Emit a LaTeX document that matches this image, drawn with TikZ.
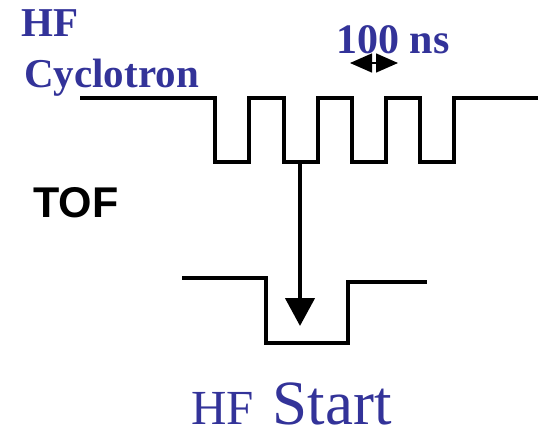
\documentclass[tikz,border=0pt]{standalone}
\usepackage{fontspec}
\setmainfont{Liberation Serif}
\newfontfamily\tofsans{Liberation Sans}
\usetikzlibrary{arrows.meta}
\definecolor{hfblue}{RGB}{51,51,153}

\begin{document}
\begin{tikzpicture}[x=1pt, y=-1pt,
        signal/.style={line width=4.5pt, line join=miter},
        lbl/.style={text=hfblue, inner sep=0pt, anchor=base west,
                    font=\bfseries\fontsize{41}{41}\selectfont},
        arr/.style={-{Triangle[length=28pt, width=29pt]}, line width=4.5pt},
        span/.style={{Triangle[length=22pt, width=19pt]}-{Triangle[length=22pt, width=19pt]},
                     line width=1.5pt}
    ]
        \useasboundingbox (0,0) rectangle (541,432);

        % labels
        \node[lbl] (hf) at (21,36) {HF};
        \node[lbl] (cyclo) at (24,87) {Cyclotron};
        \node[lbl, font=\bfseries\fontsize{42}{42}\selectfont] (period) at (336,53) {100 ns};
        \node[anchor=base west, inner sep=0pt,
              font=\tofsans\bfseries\fontsize{43}{43}\selectfont] (tof) at (33,217) {TOF};
        \node[anchor=base west, inner sep=0pt, text=hfblue, text depth=0pt] (start) at (191,424)
            {{\fontsize{49}{49}\selectfont HF}\hspace{19pt}{\fontsize{63}{63}\selectfont Start}};

        % HF cyclotron signal
        \draw[signal] (80,98) -- (215,98)
            \foreach \x in {215,284,352,420} {
                -- (\x,98) -- (\x,162) -- ({\x+34},162) -- ({\x+34},98)
            } -- (538,98);

        % TOF signal
        \draw[signal] (182,278) -- (266,278) -- (266,343) -- (348,343)
            -- (348,282) -- (427,282);

        % trigger and period
        \coordinate (tap) at (300,162);
        \coordinate (hit) at (300,326);
        \draw[arr] (tap) -- (hit);

        \coordinate (p1) at (350,63);
        \coordinate (p2) at (398,63);
        \draw[span] (p1) -- (p2);
    \end{tikzpicture}
\end{document}
